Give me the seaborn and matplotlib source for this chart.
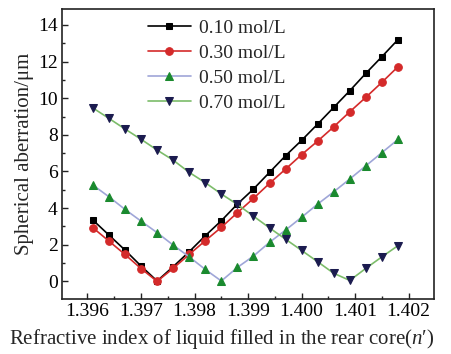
import matplotlib
matplotlib.use("Agg")
import matplotlib.pyplot as plt
import seaborn as sns
import pandas as pd
from matplotlib.ticker import MultipleLocator

n_index = [1.3961, 1.3964, 1.3967, 1.3970, 1.3973, 1.3976, 1.3979, 1.3982, 1.3985, 1.3988,
           1.3991, 1.3994, 1.3997, 1.4000, 1.4003, 1.4006, 1.4009, 1.4012, 1.4015, 1.4018]
sa_010 = [3.35, 2.53, 1.71, 0.84, 0.02, 0.80, 1.62, 2.49, 3.31, 4.22,
          5.04, 5.95, 6.86, 7.70, 8.59, 9.50, 10.41, 11.36, 12.27, 13.20]
sa_030 = [2.93, 2.20, 1.47, 0.70, 0.00, 0.71, 1.47, 2.22, 2.95, 3.75,
          4.53, 5.35, 6.13, 6.92, 7.66, 8.44, 9.26, 10.05, 10.87, 11.72]
sa_050 = [5.26, 4.62, 3.93, 3.29, 2.66, 1.98, 1.34, 0.65, 0.02, 0.76,
          1.38, 2.13, 2.80, 3.50, 4.22, 4.89, 5.59, 6.31, 7.03, 7.75]
sa_070 = [9.47, 8.90, 8.32, 7.76, 7.17, 6.62, 5.95, 5.39, 4.77, 4.20,
          3.56, 2.92, 2.30, 1.69, 1.07, 0.44, 0.05, 0.71, 1.34, 1.95]
labels = ["0.10 mol/L", "0.30 mol/L", "0.50 mol/L", "0.70 mol/L"]
xtick_vals = [1.396, 1.397, 1.398, 1.399, 1.400, 1.401, 1.402]
xtick_labels = ["1.396", "1.397", "1.398", "1.399", "1.400", "1.401", "1.402"]

sns.set_theme(style="ticks")
plt.rcParams['font.family'] = ['Liberation Serif', 'DejaVu Serif']
plt.rcParams['mathtext.fontset'] = 'custom'
plt.rcParams['mathtext.it'] = 'Liberation Serif:italic'
plt.rcParams['mathtext.rm'] = 'Liberation Serif'

fig = plt.figure(figsize=(4.51, 3.54), dpi=100)
ax = fig.add_axes([0.137, 0.1545, 0.825, 0.8195])

styles = [
    dict(color="#000000", marker="s", ms=5, mfc="#000000", mec="#000000"),
    dict(color="#d42a2a", marker="o", ms=5.5, mfc="#d42a2a", mec="#d42a2a"),
    dict(color="#9fa6d8", marker="^", ms=6, mfc="#1a8a2e", mec="#1a8a2e"),
    dict(color="#7cbc6a", marker="v", ms=6, mfc="#1b1b4f", mec="#1b1b4f"),
]
series = [sa_010, sa_030, sa_050, sa_070]
for ys, lab, st in zip(series, labels, styles):
    df = pd.DataFrame({"n": n_index, "sa": ys})
    sns.lineplot(data=df, x="n", y="sa", ax=ax, label=lab, color=st["color"],
                 marker=st["marker"], markersize=st["ms"], markerfacecolor=st["mfc"],
                 markeredgecolor=st["mec"], linewidth=1.2)

ax.set_xlim(1.39552, 1.40247)
ax.set_ylim(-0.98, 14.86)
ax.xaxis.set_minor_locator(MultipleLocator(0.0005))
ax.yaxis.set_major_locator(MultipleLocator(2))
ax.yaxis.set_minor_locator(MultipleLocator(1))
ax.set_xticks(xtick_vals)
ax.set_xticklabels(xtick_labels)
ax.tick_params(which="both", direction="in", top=False, right=False, width=1.0, colors="#222222", labelcolor="black")
ax.tick_params(which="major", length=4, labelsize=14, pad=3)
ax.tick_params(which="minor", length=2.5)
for s in ax.spines.values():
    s.set_linewidth(1.2)
    s.set_color("#222222")
    s.set_visible(True)

ax.set_xlabel("Refractive index of liquid filled in the rear core($n$′)", fontsize=15)
ax.xaxis.set_label_coords(0.43, -0.095)
ax.set_ylabel("Spherical aberration/μm", fontsize=15, labelpad=3)

leg = ax.legend(loc="upper left", bbox_to_anchor=(0.2, 1.005), frameon=False, fontsize=14,
                handlelength=2.2, handletextpad=0.45, labelspacing=0.38, borderaxespad=0.2)

fig.savefig("out.png", dpi=100)
